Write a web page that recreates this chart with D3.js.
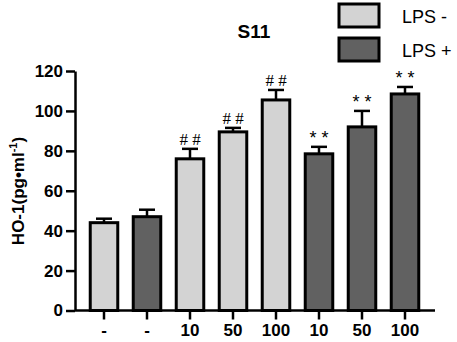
<!DOCTYPE html>
<html>
<head>
<meta charset="utf-8">
<script src="https://cdn.jsdelivr.net/npm/d3@7"></script>
<style>
  html, body { margin: 0; padding: 0; background: #fff; }
  svg { display: block; font-family: "Liberation Sans", Arial, sans-serif; }
</style>
</head>
<body>
<div id="chart"></div>
<script>
// data
const categories = ["-", "-", "10", "50", "100", "10", "50", "100"];
const groups     = ["neg", "pos", "neg", "neg", "neg", "pos", "pos", "pos"];
const values     = [44, 47, 76, 89.5, 105.5, 78.5, 92, 108.5];
const errors     = [2, 3.5, 5, 2, 5, 3.5, 8, 3.5];
const marks      = ["", "", "# #", "# #", "# #", "* *", "* *", "* *"];
const yTicks     = [0, 20, 40, 60, 80, 100, 120];
const legendKeys = ["LPS -", "LPS +"];

const W = 457, H = 342;
const fillColor = { neg: "#d3d3d3", pos: "#616161" };
const sans = "'Liberation Sans', Arial, sans-serif";

const svg = d3.select("#chart").append("svg")
  .attr("width", W)
  .attr("height", H);

const y = d3.scaleLinear().domain([0, 120]).range([310.5, 71]);
const x = d3.scaleBand()
  .domain(d3.range(categories.length))
  .range([82.5, 426.5])
  .paddingInner(0.36)
  .paddingOuter(0.18);

// bars
svg.selectAll("rect.bar")
  .data(values)
  .join("rect")
  .attr("class", "bar")
  .attr("x", (d, i) => x(i))
  .attr("y", d => y(d))
  .attr("width", x.bandwidth())
  .attr("height", d => y(0) - y(d))
  .attr("fill", (d, i) => fillColor[groups[i]])
  .attr("stroke", "#000")
  .attr("stroke-width", 3);

// error bars (upper half only) + significance marks
const capW = 16;
values.forEach((v, i) => {
  const cx = x(i) + x.bandwidth() / 2;
  const top = y(v + errors[i]);
  svg.append("line")
    .attr("x1", cx).attr("x2", cx)
    .attr("y1", y(v)).attr("y2", top)
    .attr("stroke", "#000").attr("stroke-width", 2.5);
  svg.append("line")
    .attr("x1", cx - capW / 2).attr("x2", cx + capW / 2)
    .attr("y1", top).attr("y2", top)
    .attr("stroke", "#000").attr("stroke-width", 2.5);
  if (!marks[i]) return;
  const star = marks[i].startsWith("*");
  svg.append("text")
    .attr("x", cx)
    .attr("y", star ? top - 3 : top - 4)
    .attr("text-anchor", "middle")
    .attr("font-family", star ? sans : "'Liberation Serif', 'Times New Roman', serif")
    .attr("font-size", star ? 18 : 17)
    .attr("fill", "#000")
    .text(marks[i]);
});

// y axis
const yAxis = svg.append("g")
  .attr("transform", "translate(75,0)")
  .call(d3.axisLeft(y).tickValues(yTicks).tickSize(9).tickSizeOuter(0).tickPadding(3));
yAxis.select(".domain").attr("stroke-width", 2.5);
yAxis.selectAll(".tick line").attr("stroke-width", 2.5);
yAxis.selectAll(".tick text")
  .attr("font-size", 17).attr("font-weight", "bold")
  .attr("font-family", sans)
  .attr("fill", "#000");

// x axis
const xAxisY = y(0);
svg.append("line")
  .attr("x1", 75).attr("x2", 435)
  .attr("y1", xAxisY).attr("y2", xAxisY)
  .attr("stroke", "#000").attr("stroke-width", 2.5);
const xg = svg.append("g")
  .attr("transform", `translate(0,${xAxisY})`)
  .call(d3.axisBottom(x).tickSize(9).tickSizeOuter(0).tickPadding(4).tickFormat(i => categories[i]));
xg.select(".domain").remove();
xg.selectAll(".tick line").attr("stroke-width", 2.5);
xg.selectAll(".tick text")
  .attr("font-size", 17).attr("font-weight", "bold")
  .attr("font-family", sans)
  .attr("fill", "#000");

// y axis title
const yTitle = svg.append("text")
  .attr("transform", "translate(24,191) rotate(-90)")
  .attr("text-anchor", "middle")
  .attr("font-size", 17)
  .attr("font-weight", "bold")
  .attr("fill", "#000");
yTitle.append("tspan").text("HO-1(pg•ml");
yTitle.append("tspan").attr("dy", -7).attr("font-size", 11).text("-1");
yTitle.append("tspan").attr("dy", 7).text(")");

// title
svg.append("text")
  .attr("x", 254).attr("y", 38)
  .attr("text-anchor", "middle")
  .attr("font-size", 19).attr("font-weight", "bold")
  .attr("fill", "#000")
  .text("S11");

// legend
legendKeys.forEach((k, i) => {
  const ly = 4 + i * 34;
  svg.append("rect")
    .attr("x", 339).attr("y", ly)
    .attr("width", 40).attr("height", 23)
    .attr("fill", i === 0 ? fillColor.neg : fillColor.pos)
    .attr("stroke", "#000").attr("stroke-width", 3);
  svg.append("text")
    .attr("x", 402).attr("y", ly + 19)
    .attr("font-size", 18)
    .attr("fill", "#000")
    .text(k);
});
</script>
</body>
</html>
